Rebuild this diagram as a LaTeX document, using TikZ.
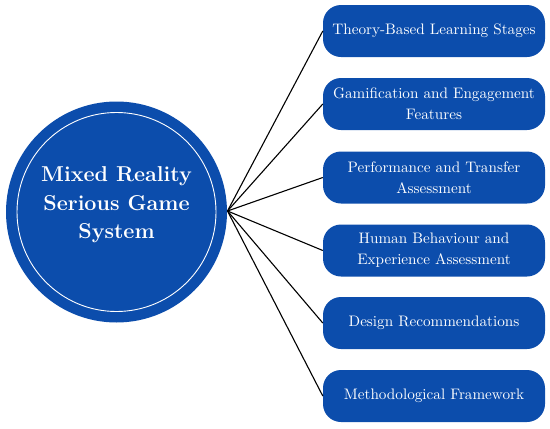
\documentclass[tikz,border=0pt]{standalone}
\usepackage{fontspec}
\newfontfamily\lmten{lmroman10-regular.otf}
\definecolor{mrblue}{RGB}{12,77,172}
\begin{document}
\begin{tikzpicture}[x=1pt,y=-1pt,
  topic/.style={fill=mrblue, rounded corners=18pt, minimum width=222pt, minimum height=52pt,
    text=white, align=center, font=\lmten\fontsize{15.2}{21}\selectfont, inner sep=0pt},
  conn/.style={draw=black, line width=1.1pt}]
\useasboundingbox (0,0) rectangle (550,429);
\node[circle, fill=mrblue, minimum size=221pt, inner sep=0pt] (core) at (116.5,212) {};
\draw[white, line width=0.9pt] (core.center) circle[radius=99.5pt];
\node[text=white, align=center, font=\bfseries\fontsize{21.5}{28.5}\selectfont] (title) at (116.5,205) {Mixed Reality\\Serious Game\\System};
\coordinate (hub) at (227.5,211);
\node[topic] (t1) at (434,31) {Theory-Based Learning Stages};
\node[topic] (t2) at (434,104) {Gamification and Engagement\\Features};
\node[topic] (t3) at (434,177.5) {Performance and Transfer\\Assessment};
\node[topic] (t4) at (434,250.5) {Human Behaviour and\\Experience Assessment};
\node[topic] (t5) at (434,323) {Design Recommendations};
\node[topic] (t6) at (434,396) {Methodological Framework};
\foreach \t in {t1,t2,t3,t4,t5,t6}{\draw[conn] (hub) -- (\t.west);}
\end{tikzpicture}
\end{document}
